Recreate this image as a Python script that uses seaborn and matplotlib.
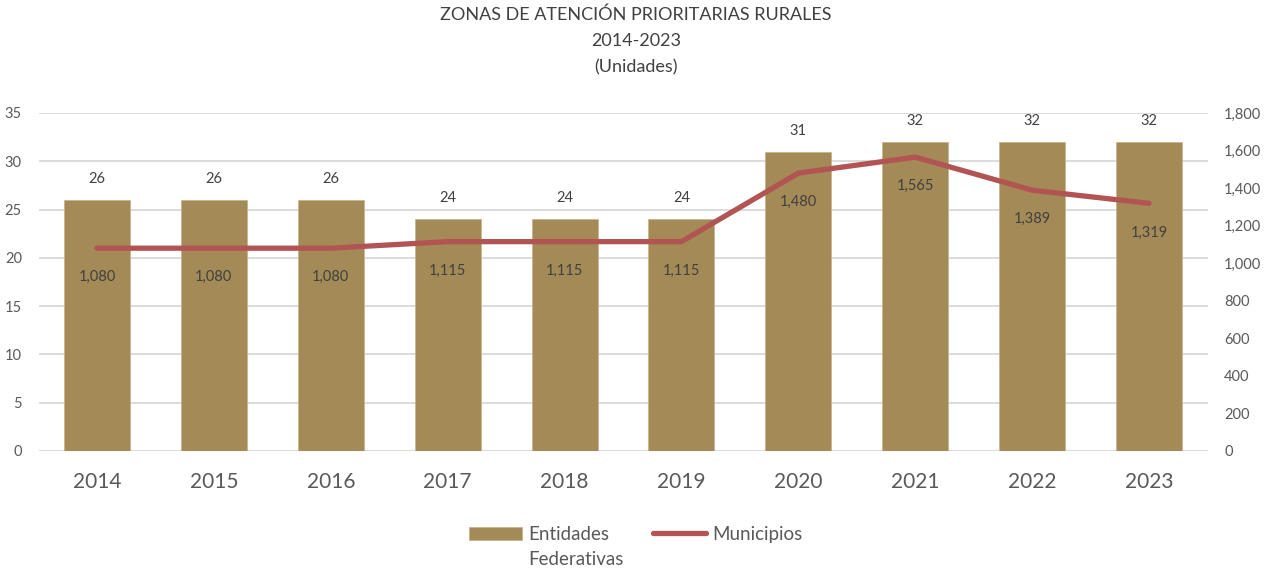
import matplotlib
matplotlib.use("Agg")
import matplotlib.pyplot as plt
import seaborn as sns
import pandas as pd
from matplotlib.ticker import FuncFormatter, MultipleLocator

years = ["2014", "2015", "2016", "2017", "2018", "2019", "2020", "2021", "2022", "2023"]
entidades = [26, 26, 26, 24, 24, 24, 31, 32, 32, 32]
municipios = [1080, 1080, 1080, 1115, 1115, 1115, 1480, 1565, 1389, 1319]

title_lines = ["ZONAS DE ATENCIÓN PRIORITARIAS RURALES", "2014-2023", "(Unidades)"]

sns.set_theme(style="white")
plt.rcParams["font.family"] = ["Lato", "DejaVu Sans"]

BAR_C = "#A48A57"
LINE_C = "#B35454"
TXT = "#404040"
TICK = "#595959"

df = pd.DataFrame({"year": years, "entidades": entidades, "municipios": municipios})

fig = plt.figure(figsize=(12.72, 5.71), dpi=100)
ax = fig.add_axes([38.5 / 1272, 1 - 451 / 571, (1207.5 - 38.5) / 1272, (451 - 113) / 571])

sns.barplot(data=df, x="year", y="entidades", color=BAR_C, width=0.565, ax=ax,
            saturation=1, label="Entidades", zorder=2, edgecolor="#C9B58E", linewidth=0.6)
ax.set_ylim(0, 35)
ax.yaxis.set_major_locator(MultipleLocator(5))
ax.grid(axis="y", color="#D9D9D9", linewidth=1.3, zorder=0)
ax.set_axisbelow(True)
for s in ax.spines.values():
    s.set_visible(False)
ax.set_xlabel("")
ax.set_ylabel("")
ax.tick_params(axis="x", labelsize=15, colors=TICK, length=0, pad=15)
ax.tick_params(axis="y", labelsize=10.5, colors=TICK, length=0, pad=12)
ax.set_xlim(-0.5, len(years) - 0.5)

for p, v in zip(ax.patches, entidades):
    ax.annotate(f"{v}", (p.get_x() + p.get_width() / 2, p.get_height()),
                xytext=(0, 15), textcoords="offset points", ha="center", va="center",
                fontsize=10.5, color=TXT)

ax2 = ax.twinx()
sns.lineplot(data=df, x="year", y="municipios", color=LINE_C, linewidth=3.8, ax=ax2,
             label="Municipios", sort=False, solid_capstyle="round", solid_joinstyle="round",
             zorder=3)
ax2.set_ylim(0, 1800)
ax2.yaxis.set_major_locator(MultipleLocator(200))
ax2.yaxis.set_major_formatter(FuncFormatter(lambda v, p: f"{int(v):,}"))
ax2.tick_params(axis="y", labelsize=10.5, colors=TICK, length=0, pad=12)
ax2.set_ylabel("")
ax2.set_xlabel("")
ax2.grid(False)
for s in ax2.spines.values():
    s.set_visible(False)
ax2.set_xlim(-0.5, len(years) - 0.5)

for i, v in enumerate(municipios):
    ax2.annotate(f"{v:,}", (i, v), xytext=(0, -21), textcoords="offset points",
                 ha="center", va="center", fontsize=10.5, color=TXT)

h1, l1 = ax.get_legend_handles_labels()
h2, l2 = ax2.get_legend_handles_labels()
if ax.get_legend():
    ax.get_legend().remove()
if ax2.get_legend():
    ax2.get_legend().remove()
leg = fig.legend(h1 + h2, l1 + l2, loc="upper left",
                 bbox_to_anchor=(469 / 1272, 1 - 526 / 571),
                 ncol=2, frameon=False, fontsize=13.5, handlelength=2.8, handleheight=0.75,
                 columnspacing=2.35, handletextpad=0.35, borderpad=0, borderaxespad=0)
for t in leg.get_texts():
    t.set_color(TICK)

fig.canvas.draw()
bb = leg.get_texts()[0].get_window_extent()
fx0 = bb.x0 / fig.bbox.width
fy = (bb.y0 + bb.y1) / 2 / fig.bbox.height - 25 / 571
fig.text(fx0, fy, "Federativas", ha="left", va="center", fontsize=13.5, color=TICK)

for i, line in enumerate(title_lines):
    fig.text(0.5, 1 - (15 + 26 * i) / 571, line, ha="center", va="center",
             fontsize=13, color=TXT)

fig.savefig("out.png", dpi=100)
